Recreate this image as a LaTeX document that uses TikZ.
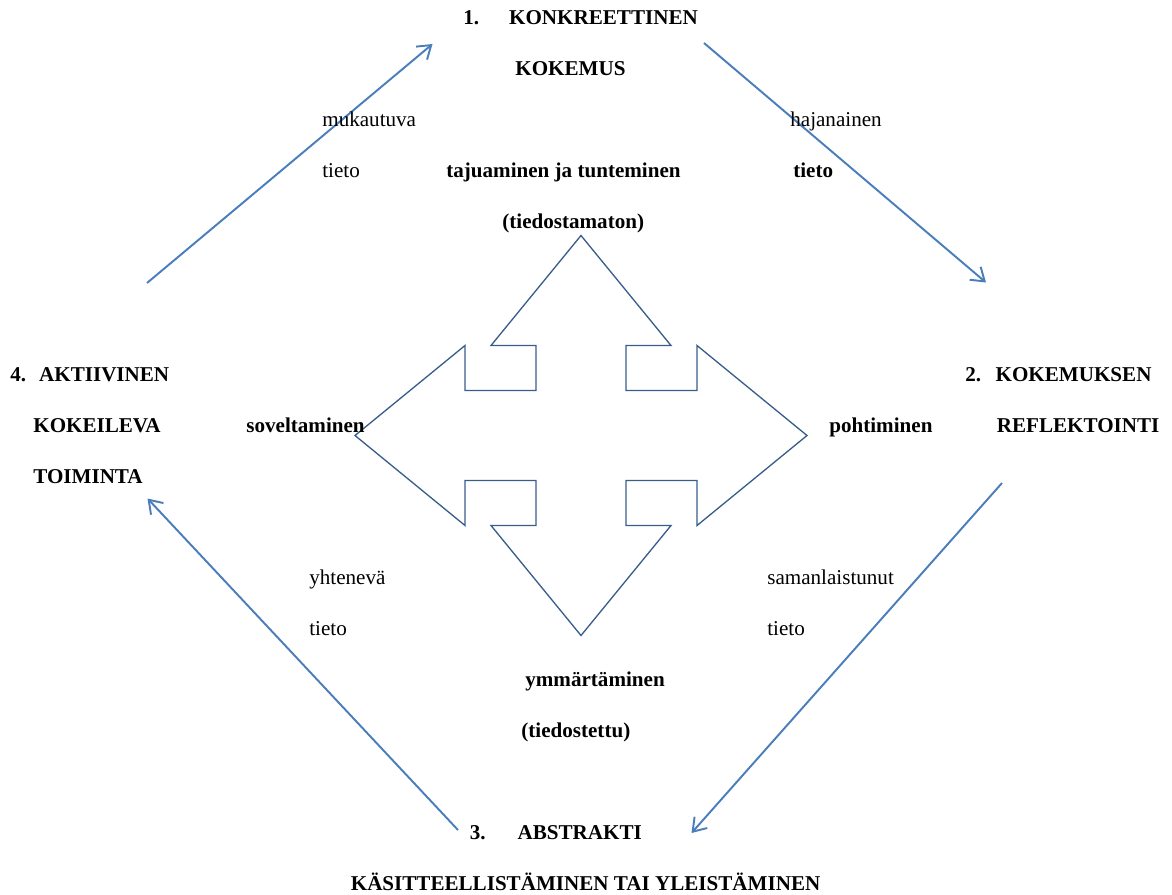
\documentclass[tikz,border=0pt]{standalone}
\usepackage{fontspec}
\setmainfont{Liberation Serif}
\usetikzlibrary{arrows.meta}
\definecolor{cyclearrow}{HTML}{4A7EBB}
\definecolor{crossline}{HTML}{385D8A}

\begin{document}
\begin{tikzpicture}[
  every node/.style={inner sep=0pt, anchor=base west, font=\fontsize{12}{14}\selectfont},
  phase/.style={font=\fontsize{12}{14}\selectfont\bfseries},
  cyc/.style={cyclearrow, line width=1.1pt, -{Straight Barb[length=0.25cm, width=0.34cm]}}
  ]
  \useasboundingbox (0,0) rectangle (23.44,-17.9);
  \coordinate (ctr) at (11.62,-8.71);
  \coordinate (a1s) at (2.94,-5.66);
  \coordinate (a1e) at (8.65,-0.88);
  \coordinate (a2s) at (14.08,-0.86);
  \coordinate (a2e) at (19.72,-5.65);
  \coordinate (a3s) at (20.04,-9.66);
  \coordinate (a3e) at (13.83,-16.66);
  \coordinate (a4s) at (9.16,-16.60);
  \coordinate (a4e) at (2.95,-9.97);
  % the four-way arrow in the middle
  \draw [crossline, line width=0.75pt, shift={(ctr)}] (0,4) -- (1.8,1.8) -- (0.9,1.8) -- (0.9,0.9) -- (2.32,0.9) -- (2.32,1.8) -- (4.52,0) -- (2.32,-1.8) -- (2.32,-0.9) -- (0.9,-0.9) -- (0.9,-1.8) -- (1.8,-1.8) -- (0,-4) -- (-1.8,-1.8) -- (-0.9,-1.8) -- (-0.9,-0.9) -- (-2.32,-0.9) -- (-2.32,-1.8) -- (-4.52,0) -- (-2.32,1.8) -- (-2.32,0.9) -- (-0.9,0.9) -- (-0.9,1.8) -- (-1.8,1.8) -- cycle;
  % cycle arrows
  \draw [cyc] (a1s) -- (a1e);
  \draw [cyc] (a2s) -- (a2e);
  \draw [cyc] (a3s) -- (a3e);
  \draw [cyc] (a4s) -- (a4e);
  % 1. top
  \node [phase] (konkreettinen) at (9.26,-0.5) {1.\hspace{0.6cm}KONKREETTINEN};
  \node [phase] (kokemus) at (10.30,-1.518) {KOKEMUS};
  \node (mukautuva) at (6.44,-2.536) {mukautuva};
  \node (tieto1) at (6.44,-3.554) {tieto};
  \node [phase] (tajuaminen) at (8.92,-3.554) {tajuaminen ja tunteminen};
  \node (hajanainen) at (15.80,-2.536) {hajanainen};
  \node [phase] (tieto2) at (15.86,-3.554) {tieto};
  \node [phase] (tiedostamaton) at (10.04,-4.572) {(tiedostamaton)};
  % 4. left
  \node [phase] (aktiivinen) at (0.20,-7.626) {4.\hspace{0.26cm}AKTIIVINEN};
  \node [phase] (kokeileva) at (0.66,-8.644) {KOKEILEVA};
  \node [phase] (toiminta) at (0.66,-9.662) {TOIMINTA};
  \node [phase] (soveltaminen) at (4.92,-8.644) {soveltaminen};
  % 2. right
  \node [phase] (pohtiminen) at (16.58,-8.644) {pohtiminen};
  \node [phase] (kokemuksen) at (19.30,-7.626) {2.\hspace{0.29cm}KOKEMUKSEN};
  \node [phase] (reflektointi) at (19.93,-8.644) {REFLEKTOINTI};
  % 3. bottom
  \node (yhteneva) at (6.18,-11.698) {yhtenevä};
  \node (tieto3) at (6.18,-12.716) {tieto};
  \node (samanlaistunut) at (15.34,-11.698) {samanlaistunut};
  \node (tieto4) at (15.34,-12.716) {tieto};
  \node [phase] (ymmartaminen) at (10.50,-13.734) {ymmärtäminen};
  \node [phase] (tiedostettu) at (10.42,-14.752) {(tiedostettu)};
  \node [phase] (abstrakti) at (9.39,-16.788) {3.\hspace{0.64cm}ABSTRAKTI};
  \node [phase] (kasitteellistaminen) at (7.01,-17.806) {KÄSITTEELLISTÄMINEN TAI YLEISTÄMINEN};
\end{tikzpicture}
\end{document}
